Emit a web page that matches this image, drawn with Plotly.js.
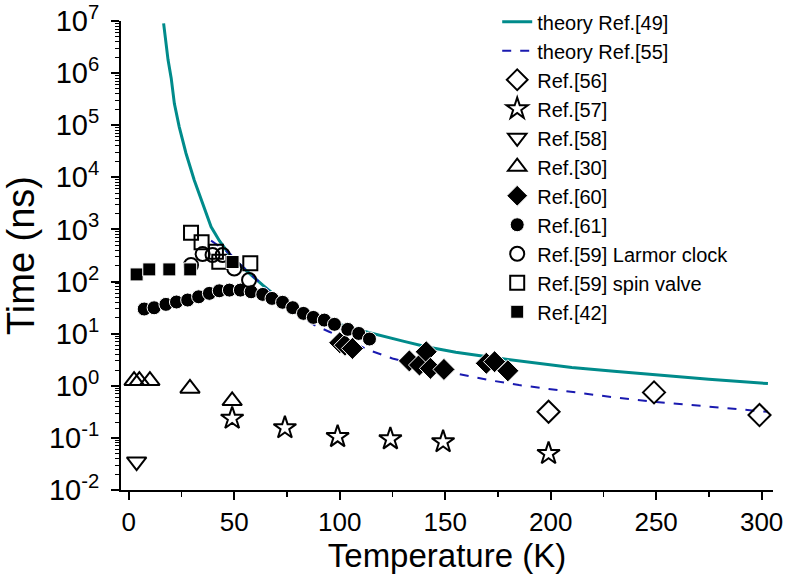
<!DOCTYPE html>
<html>
<head>
<meta charset="utf-8">
<script src="https://cdn.plot.ly/plotly-3.0.1.min.js"></script>
<style>html,body{margin:0;padding:0;background:#fff;}</style>
</head>
<body>
<div id="chart" style="width:786px;height:574px;"></div>
<script>
// axis ticks
const yTickVals = [1e-2,1e-1,1e0,1e1,1e2,1e3,1e4,1e5,1e6,1e7];
const yTickText = ['10<sup>-2</sup>','10<sup>-1</sup>','10<sup>0</sup>','10<sup>1</sup>','10<sup>2</sup>','10<sup>3</sup>','10<sup>4</sup>','10<sup>5</sup>','10<sup>6</sup>','10<sup>7</sup>'];
// theory Ref.[49]
const theory49T = [16.5,18.6,20.1,21.6,23.9,27.1,31,35,39,43,47.7,52,57,63.5,70,80,90,100,110,117,130,141,155,170,190,210,230,250,275,303];
const theory49V = [9.0e6,1.8e6,8.0e5,2.6e5,9.3e4,2.9e4,8.9e3,3.2e3,1.12e3,600,330,220,144,85,52,31,21,15,11.5,9.7,7.2,5.6,4.4,3.6,2.8,2.25,1.9,1.62,1.33,1.1];
// theory Ref.[55]
const theory55T = [39,43,48,52,57,63,70,80,88,95,105,114,125,140,155,171,185,200,214,230,250,275,303];
const theory55V = [610,470,340,230,150,90,48,24,14.6,10.9,7.0,4.8,3.35,2.3,1.73,1.28,1.03,0.86,0.71,0.6,0.49,0.4,0.316];
// Ref.[56]
const ref56T = [199,249,299];
const ref56V = [0.317,0.746,0.274];
// Ref.[57]
const ref57T = [49,74,99,124,149,199];
const ref57V = [0.237,0.156,0.105,0.095,0.084,0.050];
// Ref.[58]
const ref58T = [3.7];
const ref58V = [0.035];
// Ref.[30]
const ref30T = [2.5,5,10,29,49];
const ref30V = [1.25,1.25,1.25,0.89,0.515];
// Ref.[60]
const ref60T = [100,102.5,106,133,137.8,141,143,149.4,169.5,173.4,179.7];
const ref60V = [6.7,6.0,5.2,3.0,2.5,4.5,2.16,2.06,2.7,2.9,1.94];
// Ref.[61]
const ref61T = [7.3,12,17.6,22.6,27.9,33.1,38.2,42.9,47.7,52.9,58,63.5,67.9,72.9,77.7,82.8,87.5,92.7,97.5,103.8,109,114.1];
const ref61V = [29.7,31.4,36.5,40.5,44.2,51,59.3,66.5,68.5,68.5,63.7,56.7,47.5,40,31.5,24.5,20.5,18.2,15.1,12.1,10.1,7.9];
// Ref.[59] Larmor clock
const ref59LT = [29.5,35,39.7,44.5,50,57];
const ref59LV = [208,337,323,323,178,107];
// Ref.[59] spin valve
const ref59ST = [29.5,34.5,41.3,42.9,57.6];
const ref59SV = [865,565,373,240,224];
// Ref.[42]
const ref42T = [3.7,9.7,19.2,29.1,49.2];
const ref42V = [137,171,171,171,237];

const openLine = {color:'#000', width:2};
const traces = [
  {x:theory49T, y:theory49V, name:'theory Ref.[49]', mode:'lines', line:{color:'#008b8b', width:3}},
  {x:theory55T, y:theory55V, name:'theory Ref.[55]', mode:'lines', line:{color:'#1a1ab0', width:2, dash:'dash'}},
  {x:ref56T, y:ref56V, name:'Ref.[56]', mode:'markers', marker:{symbol:'diamond-open', size:17, line:openLine, color:'#000'}},
  {x:ref57T, y:ref57V, name:'Ref.[57]', mode:'markers', marker:{symbol:'star-open', size:17, line:openLine, color:'#000'}},
  {x:ref58T, y:ref58V, name:'Ref.[58]', mode:'markers', marker:{symbol:'triangle-down-open', size:17, line:openLine, color:'#000'}},
  {x:ref30T, y:ref30V, name:'Ref.[30]', mode:'markers', marker:{symbol:'triangle-up-open', size:17, line:openLine, color:'#000'}},
  {x:ref60T, y:ref60V, name:'Ref.[60]', mode:'markers', marker:{symbol:'diamond', size:17, color:'#000', line:{color:'#fff', width:1}}},
  {x:ref61T, y:ref61V, name:'Ref.[61]', mode:'markers', marker:{symbol:'circle', size:14, color:'#000', line:{color:'#fff', width:1}}},
  {x:ref59LT, y:ref59LV, name:'Ref.[59] Larmor clock', mode:'markers', marker:{symbol:'circle-open', size:14, line:openLine, color:'#000'}},
  {x:ref59ST, y:ref59SV, name:'Ref.[59] spin valve', mode:'markers', marker:{symbol:'square-open', size:14, line:openLine, color:'#000'}},
  {x:ref42T, y:ref42V, name:'Ref.[42]', mode:'markers', marker:{symbol:'square', size:13, color:'#000', line:{color:'#fff', width:1}}}
];

const layout = {
  width:786, height:574,
  margin:{l:121, r:13, t:21, b:84, autoexpand:false},
  paper_bgcolor:'#fff', plot_bgcolor:'#fff',
  font:{family:'Arial, "Liberation Sans", sans-serif', color:'#000'},
  showlegend:true,
  legend:{x:0.577, y:1.04, xanchor:'left', yanchor:'top', bgcolor:'rgba(0,0,0,0)', font:{size:20, color:'#000'}, tracegroupgap:0, maxheight:1000},
  xaxis:{
    range:[-3.7,305.4], tick0:0, dtick:50, showgrid:false, zeroline:false,
    showline:true, linecolor:'#000', linewidth:2,
    ticks:'outside', ticklen:8, tickwidth:2, tickcolor:'#000',
    minor:{ticks:'outside', ticklen:5, tickwidth:1.5, tickcolor:'#000', dtick:25, tick0:0},
    tickfont:{size:26},
    title:{text:'Temperature (K)', font:{size:33}, standoff:6}
  },
  yaxis:{
    type:'log', range:[-2,7], tickmode:'array', tickvals:yTickVals, ticktext:yTickText,
    showgrid:false, zeroline:false,
    showline:true, linecolor:'#000', linewidth:2,
    ticks:'outside', ticklen:8, tickwidth:2, tickcolor:'#000',
    minor:{ticks:'outside', ticklen:4, tickwidth:1, tickcolor:'#000', dtick:'D1'},
    ticklabelstandoff:6,
    tickfont:{size:29},
    title:{text:'Time (ns)', font:{size:38}, standoff:8}
  }
};

Plotly.newPlot('chart', traces, layout, {displayModeBar:false, staticPlot:true});
</script>
</body>
</html>
